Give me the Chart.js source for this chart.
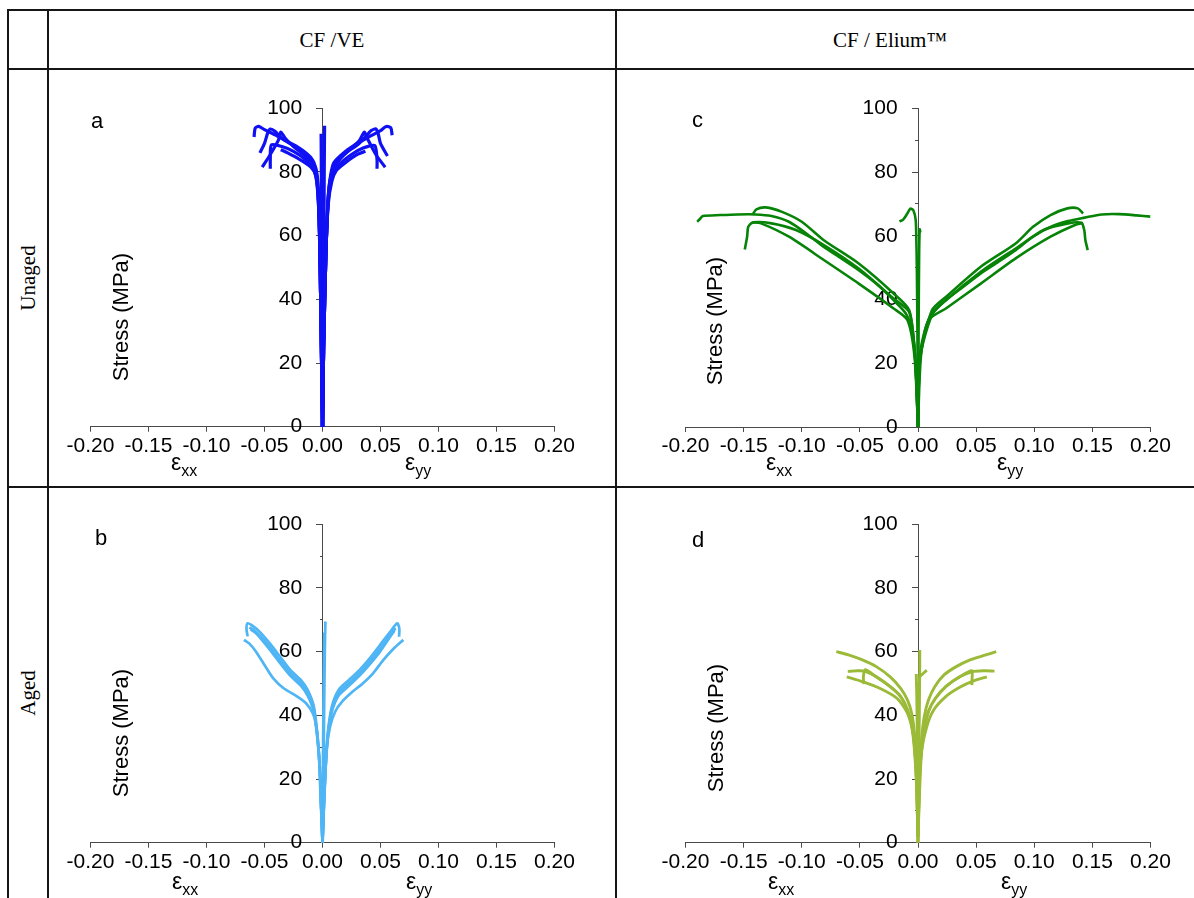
<!DOCTYPE html>
<html>
<head>
<meta charset="utf-8">
<script src="https://cdn.jsdelivr.net/npm/chart.js@4.4.1/dist/chart.umd.min.js"></script>
<style>
  body { margin: 0; width: 1194px; height: 898px; overflow: hidden; background: #fff; position: relative; font-family: 'Liberation Sans', Arial, sans-serif; }
  .rule { position: absolute; background: #161616; }
  .serif { position: absolute; font-family: 'Liberation Serif', 'Times New Roman', serif; font-size: 21px; line-height: 24px; color: #000; white-space: nowrap; }
  .rot { transform: translate(-50%, -50%) rotate(-90deg); }
  .box { position: absolute; }
  .letter { position: absolute; font-size: 22px; line-height: 22px; color: #000; }
  .ytitle { position: absolute; font-size: 22px; line-height: 24px; color: #000; white-space: nowrap; transform: translate(-50%, -50%) rotate(-90deg); }
  .eps { position: absolute; font-size: 23px; line-height: 22px; color: #000; white-space: nowrap; }
  .eps sub { font-size: 16px; vertical-align: -6px; line-height: 0; }
</style>
</head>
<body>

<!-- table rules -->
<div class="rule" style="left:7px;top:10px;width:2px;height:890px"></div>
<div class="rule" style="left:47px;top:10px;width:2px;height:890px"></div>
<div class="rule" style="left:615px;top:10px;width:2px;height:890px"></div>
<div class="rule" style="left:7px;top:9px;width:1187px;height:2px"></div>
<div class="rule" style="left:7px;top:68px;width:1187px;height:2px"></div>
<div class="rule" style="left:7px;top:486px;width:1187px;height:2px"></div>

<div id="head0" class="serif" style="left:48px;width:568px;top:28px;text-align:center"></div>
<div id="head1" class="serif" style="left:616px;width:548px;top:28px;text-align:center"></div>
<div id="row0" class="serif rot" style="left:28px;top:278px"></div>
<div id="row1" class="serif rot" style="left:28px;top:693px"></div>

<div class="box" style="left:50px;top:80px"><canvas id="chartA" width="560" height="400"></canvas></div>
<div class="box" style="left:640px;top:80px"><canvas id="chartC" width="554" height="400"></canvas></div>
<div class="box" style="left:50px;top:496px"><canvas id="chartB" width="560" height="400"></canvas></div>
<div class="box" style="left:640px;top:496px"><canvas id="chartD" width="554" height="400"></canvas></div>

<div class="letter" style="left:91px;top:110px">a</div>
<div class="letter" style="left:692px;top:109px">c</div>
<div class="letter" style="left:95px;top:527px">b</div>
<div class="letter" style="left:692px;top:529px">d</div>

<div class="ytitle" style="left:121px;top:317px">Stress (MPa)</div>
<div class="ytitle" style="left:715px;top:321px">Stress (MPa)</div>
<div class="ytitle" style="left:121px;top:733px">Stress (MPa)</div>
<div class="ytitle" style="left:716px;top:728px">Stress (MPa)</div>

<div class="eps" style="left:171px;top:451px">ε<sub>xx</sub></div>
<div class="eps" style="left:405px;top:451px">ε<sub>yy</sub></div>
<div class="eps" style="left:766px;top:451px">ε<sub>xx</sub></div>
<div class="eps" style="left:997px;top:451px">ε<sub>yy</sub></div>
<div class="eps" style="left:172px;top:870px">ε<sub>xx</sub></div>
<div class="eps" style="left:406px;top:870px">ε<sub>yy</sub></div>
<div class="eps" style="left:768px;top:870px">ε<sub>xx</sub></div>
<div class="eps" style="left:1001px;top:870px">ε<sub>yy</sub></div>

<script>
// ----------------------------
// Axis ticks and labels
// ----------------------------
const strainTicks = [-0.20, -0.15, -0.10, -0.05, 0.00, 0.05, 0.10, 0.15, 0.20];
const stressTicks = [0, 20, 40, 60, 80, 100];
const stressMinorTicks = [10, 30, 50, 70, 90];
const materials = ['CF /VE', 'CF / Elium™'];
const conditions = ['Unaged', 'Aged'];

// ----------------------------
// Curves: [strain, stress (MPa)], left = εxx, right = εyy, plus near-vertical gauges
// ----------------------------
// a - CF/VE unaged
const veUnaged = [
  [[0,0],[-0.001,25],[-0.002,50],[-0.003,68],[-0.004,77],[-0.006,81.5],[-0.01,84.5],[-0.02,87.5],[-0.03,89.5],[-0.04,91.5],[-0.05,93.3],[-0.055,94.3],[-0.058,93.8],[-0.059,91]],
  [[0,0],[-0.001,25],[-0.002,50],[-0.003,68],[-0.005,79],[-0.008,83],[-0.015,86],[-0.025,88.3],[-0.035,90.5],[-0.041,92.8],[-0.045,93.5],[-0.047,92.5],[-0.05,89],[-0.054,86]],
  [[0,0],[-0.001,25],[-0.002,50],[-0.003,67],[-0.005,78],[-0.008,82],[-0.015,85],[-0.025,88],[-0.032,90.5],[-0.036,92.5],[-0.038,90],[-0.045,85.5],[-0.052,81.5]],
  [[0,0],[-0.001,25],[-0.002,50],[-0.003,66],[-0.005,77],[-0.008,81],[-0.015,84],[-0.025,86.5],[-0.035,88],[-0.044,88.5],[-0.045,84],[-0.045,81]],
  [[0,0],[-0.001,25],[-0.002,50],[-0.003,65],[-0.004,74],[-0.006,79],[-0.01,81.5],[-0.02,84],[-0.03,86],[-0.036,87]],
  [[0,0],[0.001,25],[0.003,55],[0.005,72],[0.007,79],[0.01,83],[0.02,86.5],[0.03,89],[0.04,91],[0.05,93],[0.055,94.3],[0.059,93.8],[0.06,91.5]],
  [[0,0],[0.001,25],[0.003,55],[0.005,73],[0.008,80],[0.012,83.5],[0.02,86],[0.03,88.5],[0.037,91],[0.042,93],[0.046,93.5],[0.048,92],[0.05,89],[0.056,85]],
  [[0,0],[0.001,25],[0.003,55],[0.005,72],[0.008,79.5],[0.015,84],[0.025,87.5],[0.032,90],[0.036,92.5],[0.038,91],[0.046,85.5],[0.054,81.5]],
  [[0,0],[0.001,25],[0.003,55],[0.005,71],[0.008,78.5],[0.015,82.5],[0.025,85.5],[0.035,87.5],[0.045,88.3],[0.047,84],[0.047,81]],
  [[0,0],[0.001,25],[0.003,55],[0.005,70],[0.008,77],[0.012,80.5],[0.02,83],[0.03,85.5],[0.037,86.5]],
  [[0.0005,0],[0.001,40],[0.0015,80],[0.0018,94.5]],
  [[-0.0003,0],[-0.0005,40],[-0.001,80],[-0.0012,92]]
];

// b - CF/VE aged
const veAged = [
  [[0,0],[-0.0015,13],[-0.0033,29],[-0.0053,36.4],[-0.0083,40.6],[-0.0142,43.8],[-0.0217,45.9],[-0.0335,48.5],[-0.0424,51.6],[-0.05,55.8],[-0.0573,60],[-0.0632,62.6],[-0.0677,63.7]],
  [[0,0],[-0.0012,12],[-0.0024,24],[-0.0045,34.3],[-0.0074,42.7],[-0.0128,48],[-0.0187,51.1],[-0.0276,54.2],[-0.0365,58.4],[-0.0454,62.6],[-0.0543,66.3],[-0.0602,68.1],[-0.0647,68.9],[-0.0655,67],[-0.0645,64.8]],
  [[0,0],[-0.0012,12],[-0.0024,24],[-0.0045,33.5],[-0.0074,41.7],[-0.0128,47],[-0.0187,50.1],[-0.0276,53.2],[-0.0365,57.2],[-0.0454,61.4],[-0.054,65],[-0.06,67],[-0.063,67.6]],
  [[0,0],[-0.0012,12],[-0.0024,24],[-0.0045,33],[-0.0074,41],[-0.0128,46.2],[-0.0187,49.3],[-0.0276,52.4],[-0.0365,56.4],[-0.0454,60.6],[-0.053,64],[-0.058,66],[-0.062,67]],
  [[0,0],[0.0015,13.4],[0.0036,29.1],[0.0065,36.4],[0.011,41.2],[0.0169,44.3],[0.0258,47.4],[0.0347,50],[0.0436,53.2],[0.0525,57.4],[0.0614,61],[0.0697,63.7]],
  [[0,0],[0.0012,12],[0.0027,23.9],[0.0045,34.3],[0.008,42.7],[0.0139,48],[0.0228,51.1],[0.0318,54.2],[0.0407,57.9],[0.0496,62.1],[0.0585,66.3],[0.0644,68.9],[0.0662,67.3],[0.066,64.7]],
  [[0,0],[0.0012,12],[0.0027,23.9],[0.0045,33.5],[0.008,41.7],[0.0139,47],[0.0228,50.1],[0.0318,53.2],[0.0407,56.8],[0.0496,60.9],[0.058,65],[0.063,67.4]],
  [[0,0],[0.0012,12],[0.0027,23.9],[0.0045,33],[0.008,41],[0.0139,46.2],[0.0228,49.3],[0.0318,52.4],[0.0407,56],[0.0496,60],[0.057,64],[0.062,66.6]],
  [[0.0002,0],[0.0008,20],[0.0015,45],[0.002,60],[0.0025,69.5]],
  [[0,0],[0.0005,30],[0.001,50],[0.0015,66]]
];

// c - CF/Elium unaged
const eliumUnaged = [
  [[0,0],[-0.0024,22],[-0.0054,30.4],[-0.0105,35.6],[-0.021,39.8],[-0.036,45],[-0.051,49.2],[-0.066,52.9],[-0.081,56.5],[-0.096,60.7],[-0.111,64.4],[-0.126,66.2],[-0.14,66.7],[-0.155,66.7],[-0.17,66.5],[-0.185,66.2],[-0.188,65.1],[-0.19,64.4]],
  [[0,0],[-0.0025,22],[-0.0075,36.6],[-0.021,41.9],[-0.051,51.3],[-0.081,58.6],[-0.1,64.4],[-0.117,67.5],[-0.131,68.9],[-0.139,68.3],[-0.142,66.8]],
  [[0,0],[-0.0025,22],[-0.0075,36],[-0.021,40.3],[-0.051,49.7],[-0.081,57.1],[-0.105,61.8],[-0.126,63.9],[-0.142,64.2],[-0.146,62.8],[-0.147,59.7],[-0.149,55.7]],
  [[0,0],[-0.003,22],[-0.009,33.5],[-0.021,37.2],[-0.051,45],[-0.081,52.4],[-0.111,59.7],[-0.135,63.9],[-0.142,64.2]],
  [[0,0],[0.0015,22],[0.006,30.4],[0.012,35.6],[0.024,39.8],[0.039,44],[0.054,48.2],[0.069,51.8],[0.084,55.5],[0.099,59.7],[0.114,62.8],[0.129,64.6],[0.1435,65.7],[0.158,66.7],[0.173,66.8],[0.188,66.4],[0.2,66]],
  [[0,0],[0.002,22],[0.012,36.6],[0.024,40.8],[0.054,50.3],[0.084,57.6],[0.099,62.8],[0.114,66.5],[0.1285,68.6],[0.1375,68.6],[0.142,67]],
  [[0,0],[0.002,22],[0.012,35.1],[0.024,39.8],[0.054,48.7],[0.084,56],[0.108,61.8],[0.129,63.9],[0.1405,64.1],[0.143,61.8],[0.144,58.6],[0.146,55.5]],
  [[0,0],[0.0025,22],[0.009,33.5],[0.024,37.2],[0.054,45],[0.084,52.9],[0.114,59.7],[0.135,63.4],[0.142,64]],
  [[0,0],[-0.0005,30],[-0.001,50],[-0.0015,60],[-0.002,65],[-0.004,68],[-0.0065,68.5],[-0.01,66.5],[-0.013,65],[-0.016,64.5]],
  [[0.0003,0],[0.0005,30],[0.001,55],[0.0015,62],[0.002,61]]
];

// d - CF/Elium aged
const eliumAged = [
  [[0,2],[-0.0012,23.9],[-0.003,34.3],[-0.0054,40.6],[-0.009,44.8],[-0.0149,48.5],[-0.0239,52.1],[-0.0359,55.3],[-0.0478,57.4],[-0.0598,59],[-0.0703,60]],
  [[0,2],[-0.0018,23.9],[-0.0045,35.4],[-0.009,41.7],[-0.0149,45.9],[-0.0239,49],[-0.0359,52.1],[-0.046,53.9],[-0.052,54],[-0.0604,53.8]],
  [[0,2],[-0.0015,20],[-0.0045,34.3],[-0.009,40.6],[-0.0179,45.3],[-0.0329,48.5],[-0.0478,50.6],[-0.0613,52.1]],
  [[0,2],[-0.0018,23.9],[-0.0045,35.4],[-0.009,41.7],[-0.0149,45.9],[-0.0239,49],[-0.0359,52.1],[-0.0455,54.3],[-0.047,52],[-0.0465,49.8]],
  [[0,2],[0.0012,21.8],[0.003,32.3],[0.0054,39.6],[0.009,44.8],[0.0144,49],[0.0224,52.7],[0.0329,55.3],[0.0448,57.4],[0.0568,58.8],[0.0673,60]],
  [[0,2],[0.0018,23.9],[0.0054,35.4],[0.009,41.2],[0.0149,45.3],[0.0239,49],[0.0359,52.1],[0.0463,53.7],[0.0568,54],[0.0658,53.9]],
  [[0,2],[0.0018,23.9],[0.0054,35.4],[0.009,41.2],[0.0149,45.3],[0.0239,49],[0.0359,52.1],[0.0463,54],[0.0465,51.5],[0.0463,49.5]],
  [[0,2],[0.003,28.1],[0.0075,36.4],[0.0135,41.7],[0.0239,45.9],[0.0359,48.8],[0.0478,50.8],[0.0592,52.1]],
  [[0,0],[0.0005,20],[0.001,40],[0.0015,55],[0.0015,60.5]],
  [[0,0],[0.0005,30],[0.001,45],[0.0015,52],[0.004,53],[0.0075,54.2]],
  [[0,0],[-0.0005,30],[-0.001,45],[-0.0015,53]]
];

// ----------------------------
// Header texts
// ----------------------------
document.getElementById('head0').textContent = materials[0];
document.getElementById('head1').textContent = materials[1];
document.getElementById('row0').textContent = conditions[0];
document.getElementById('row1').textContent = conditions[1];

// ----------------------------
// Chart builder
// ----------------------------
const axisColor = '#4a4a4a';
const tickFont = { family: "'Liberation Sans', Arial, sans-serif", size: 21 };

function makePanel(canvasId, curves, color, lineWidth, padding) {
  const datasets = curves.map(curve => ({
    data: curve.map(p => ({ x: p[0], y: p[1] })),
    showLine: true,
    borderColor: color,
    borderWidth: lineWidth,
    pointRadius: 0,
    tension: 0.25,
    fill: false
  }));

  return new Chart(document.getElementById(canvasId), {
    type: 'scatter',
    data: { datasets: datasets },
    options: {
      responsive: false,
      animation: false,
      layout: { padding: padding },
      plugins: { legend: { display: false }, tooltip: { enabled: false } },
      scales: {
        x: {
          type: 'linear', position: 'bottom', min: -0.2, max: 0.2,
          afterBuildTicks: s => { s.ticks = strainTicks.map(v => ({ value: v })); },
          afterFit: s => { s.height = 40; },
          grid: { drawOnChartArea: false, drawTicks: true, tickLength: 5, color: axisColor },
          border: { display: true, color: axisColor, width: 1 },
          ticks: { color: '#000', font: tickFont, padding: 2, maxRotation: 0, autoSkip: false,
                   callback: v => (Math.abs(v) < 1e-9 ? 0 : v).toFixed(2) }
        },
        y: {
          type: 'linear', position: { x: 0 }, min: 0, max: 100,
          afterBuildTicks: s => { s.ticks = stressTicks.map(v => ({ value: v })); },
          grid: { drawOnChartArea: false, drawTicks: true, tickLength: 6, color: axisColor },
          border: { display: true, color: axisColor, width: 1 },
          ticks: { display: false }
        },
        yMinor: {
          type: 'linear', position: { x: 0 }, min: 0, max: 100,
          afterBuildTicks: s => { s.ticks = stressMinorTicks.map(v => ({ value: v })); },
          grid: { drawOnChartArea: false, drawTicks: true, tickLength: 3, color: axisColor },
          border: { display: false },
          ticks: { display: false }
        },
        yLabels: {
          type: 'linear', position: { x: -0.0175 }, min: 0, max: 100,
          afterBuildTicks: s => { s.ticks = stressTicks.map(v => ({ value: v })); },
          grid: { display: false },
          border: { display: false },
          ticks: { color: '#000', font: tickFont, padding: 0 }
        }
      }
    }
  });
}

makePanel('chartA', veUnaged, '#1010f4', 3.2, { left: 40.5, right: 55.5, top: 28.3, bottom: 13.3 });
makePanel('chartC', eliumUnaged, '#078407', 2.6, { left: 45.5, right: 43.5, top: 28.3, bottom: 13 });
makePanel('chartB', veAged, '#4fb5f4', 2.7, { left: 40.5, right: 55.5, top: 28.3, bottom: 13.3 });
makePanel('chartD', eliumAged, '#9bbb38', 2.9, { left: 45.5, right: 43.5, top: 28.3, bottom: 13.3 });
</script>
</body>
</html>
